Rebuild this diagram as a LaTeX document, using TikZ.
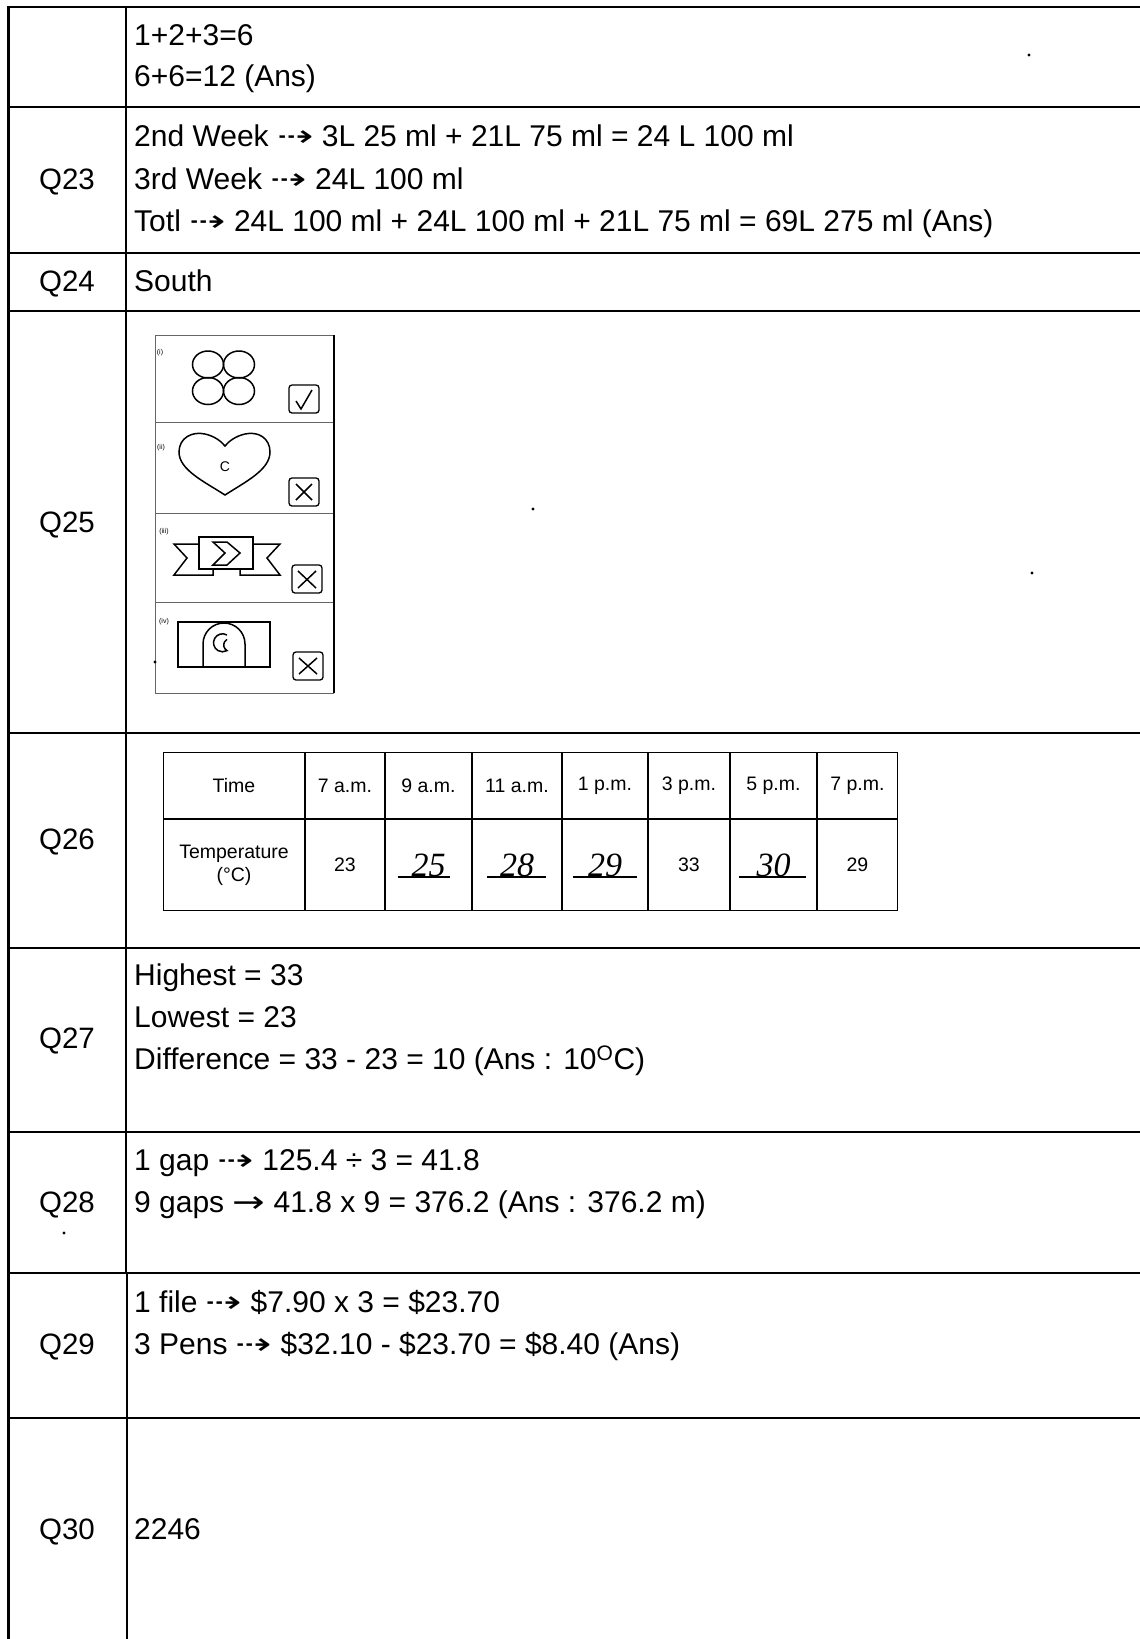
\documentclass[tikz,border=0pt]{standalone}
\usepackage{fontspec}
\setmainfont{Liberation Sans}
\newfontfamily\arrowfont{DejaVu Sans}
\newfontfamily\handfont{Liberation Serif}
\newcommand{\darr}{{\arrowfont\scalebox{1.45}[1]{⇢}}}
\newcommand{\sarr}{{\arrowfont\scalebox{1.3}[1]{→}}}
\usetikzlibrary{matrix}

\begin{document}
\begin{tikzpicture}[
        x=1pt, y=-1pt,
        font=\fontsize{30}{35}\selectfont,
        rule/.style={line width=2.6pt},
        qlabel/.style={anchor=base, inner sep=0pt, font=\fontsize{29.5}{35}\selectfont},
        answer/.style={anchor=base west, inner sep=0pt},
        scan/.style={line width=0.9pt, black!60},
        figline/.style={line width=1.5pt},
        tickbox/.style={line width=1.3pt, rounded corners=3pt},
        cell/.style={draw, line width=1pt, inner sep=0pt, outer sep=0pt, align=center,
            font=\fontsize{19.5}{23}\selectfont},
        hand/.style={font=\handfont\itshape\fontsize{34}{34}\selectfont},
        handline/.style={line width=1.6pt},
        speck/.style={fill=black}
    ]
    \useasboundingbox (0,0) rectangle (1140,1639);

    % rules of the answer sheet
    \foreach \y in {7,107,253,311,733,948,1132,1273,1418}
        \draw[rule] (7,\y) -- (1140,\y);
    \draw[line width=3pt] (8,6) -- (8,1639);
    \draw[line width=2pt] (126,6) -- (126,1273);
    \draw[line width=1.3pt] (127,1273) -- (127,1639);

    % question column
    \node[qlabel] (q23) at (67,189.3) {Q23};
    \node[qlabel] (q24) at (67,291.6) {Q24};
    \node[qlabel] (q25) at (67,532) {Q25};
    \node[qlabel] (q26) at (67,849.6) {Q26};
    \node[qlabel] (q27) at (67,1048.2) {Q27};
    \node[qlabel] (q28) at (67,1212.2) {Q28};
    \node[qlabel] (q29) at (67,1354.4) {Q29};
    \node[qlabel] (q30) at (67,1539.3) {Q30};

    % answers
    \node[answer] (a22a) at (134,45.1) {1+2+3=6};
    \node[answer] (a22b) at (134,86.9) {6+6=12 (Ans)};
    \node[answer] (a23a) at (134,146.4) {2nd Week \darr{} 3L 25 ml + 21L 75 ml = 24 L 100 ml};
    \node[answer] (a23b) at (134,189.3) {3rd Week \darr{} 24L 100 ml};
    \node[answer] (a23c) at (134,231.1) {Totl \darr{} 24L 100 ml + 24L 100 ml + 21L 75 ml = 69L 275 ml (Ans)};
    \node[answer] (a24) at (134,291.6) {South};
    \node[answer] (a27a) at (134,985.5) {Highest = 33};
    \node[answer] (a27b) at (134,1027.3) {Lowest = 23};
    \node[answer] (a27c) at (134,1069.1) {Difference = 33 - 23 = 10 (Ans : 10\textsuperscript{O}C)};
    \node[answer] (a28a) at (134,1170.4) {1 gap \darr{} 125.4 ÷ 3 = 41.8};
    \node[answer] (a28b) at (134,1212.2) {9 gaps \sarr{} 41.8 x 9 = 376.2 (Ans : 376.2 m)};
    \node[answer] (a29a) at (134,1312.6) {1 file \darr{} \$7.90 x 3 = \$23.70};
    \node[answer] (a29b) at (134,1354.4) {3 Pens \darr{} \$32.10 - \$23.70 = \$8.40 (Ans)};
    \node[answer] (a30) at (134,1539.3) {2246};

    % Q25 scanned figure
    \draw[scan] (155,335) -- (334,335);
    \draw[scan] (155,335) -- (155,693);
    \foreach \y in {422,513,602,693}
        \draw[scan] (155,\y) -- (334,\y);
    \draw[line width=1.2pt] (334,335) -- (334,693);
    \node[font=\fontsize{7}{7}\selectfont] (pi) at (160,353) {(i)};
    \node[font=\fontsize{7}{7}\selectfont] (pii) at (161,448) {(ii)};
    \node[font=\fontsize{7}{7}\selectfont] (piii) at (164,532) {(iii)};
    \node[font=\fontsize{7}{7}\selectfont] (piv) at (164,622) {(iv)};
    % (i) four circles
    \foreach \cx in {208,239}
        \foreach \cy in {364.5,391}
            \draw[figline] (\cx,\cy) circle[x radius=15.5pt, y radius=13.5pt];
    \draw[tickbox] (289,385) rectangle (319,413);
    \draw[figline] (296,401) -- (301,409) -- (312,390);
    % (ii) heart
    \draw[figline] (225,495) .. controls (205,482) and (179,470) .. (179,452)
        .. controls (179,438) and (192,431) .. (205,434)
        .. controls (214,436) and (221,441) .. (225,446)
        .. controls (229,441) and (236,436) .. (245,434)
        .. controls (258,431) and (270,438) .. (270,452)
        .. controls (270,470) and (245,482) .. (225,495) -- cycle;
    \node[font=\fontsize{14}{14}\selectfont] (hc) at (225,467) {C};
    \draw[tickbox] (289,478) rectangle (319,506);
    \draw[figline] (296,484) -- (312,500) (312,484) -- (296,500);
    % (iii) ribbon
    \draw[figline] (199,544) -- (174,544) -- (187,558) -- (174,575) -- (213,575) -- (213,569);
    \draw[figline] (253,544) -- (280,544) -- (267,558) -- (280,575) -- (240,575) -- (240,569);
    \draw[figline, fill=white] (199,537) rectangle (253,569);
    \draw[figline] (213,542) -- (227,542) -- (240,553) -- (227,565) -- (213,565) -- (225,553) -- cycle;
    \draw[tickbox] (292,565) rectangle (322,593);
    \draw[figline] (298,571) -- (316,588) (316,571) -- (298,588);
    % (iv) door
    \draw[figline] (178,622) rectangle (270,667);
    \draw[figline] (203,667) -- (203,644) arc[start angle=180, end angle=0, radius=21pt] -- (245,667);
    \draw[figline] (227,635) arc[start angle=60, end angle=300, radius=9pt]
        arc[start angle=240, end angle=120, radius=6.5pt];
    \draw[tickbox] (293,652) rectangle (323,680);
    \draw[figline] (299,658) -- (317,674) (317,658) -- (299,674);

    % Q26 temperature table
    \matrix (temps) [anchor=north west, inner sep=0pt, outer sep=0pt,
            column sep=0pt, row sep=0pt,
            column 1/.style={nodes={minimum width=141pt}},
            column 2/.style={nodes={minimum width=79pt}},
            column 3/.style={nodes={minimum width=86pt}},
            column 4/.style={nodes={minimum width=89pt}},
            column 5/.style={nodes={minimum width=85pt}},
            column 6/.style={nodes={minimum width=81pt}},
            column 7/.style={nodes={minimum width=86pt}},
            column 8/.style={nodes={minimum width=80pt}},
            row 1/.style={nodes={minimum height=66pt}},
            row 2/.style={nodes={minimum height=91pt}}] at (163,752) {
        % header
        \node[cell] (time) {Time}; &
        \node[cell] (t7am) {7 a.m.}; &
        \node[cell] (t9am) {9 a.m.}; &
        \node[cell] (t11am) {11 a.m.}; &
        \node[cell] (t1pm) {1 p.m.}; &
        \node[cell] (t3pm) {3 p.m.}; &
        \node[cell] (t5pm) {5 p.m.}; &
        \node[cell] (t7pm) {7 p.m.}; \\
        % readings
        \node[cell] (temp) {Temperature\\(°C)}; &
        \node[cell] (v7am) {23}; &
        \node[cell, hand] (v9am) {25}; &
        \node[cell, hand] (v11am) {28}; &
        \node[cell, hand] (v1pm) {29}; &
        \node[cell] (v3pm) {33}; &
        \node[cell, hand] (v5pm) {30}; &
        \node[cell] (v7pm) {29}; \\
    };
    \draw[handline] ([xshift=-31pt, yshift=-12pt]v9am.center) -- ++(52,0);
    \draw[handline] ([xshift=-30pt, yshift=-12pt]v11am.center) -- ++(59,0);
    \draw[handline] ([xshift=-32pt, yshift=-12pt]v1pm.center) -- ++(64,0);
    \draw[handline] ([xshift=-35pt, yshift=-12pt]v5pm.center) -- ++(67,0);

    % specks of the scan
    \foreach \sx/\sy in {1029/55, 533/509, 1032/573, 155/662, 64/1233}
        \fill[speck] (\sx,\sy) circle[radius=1.6pt];
\end{tikzpicture}
\end{document}
